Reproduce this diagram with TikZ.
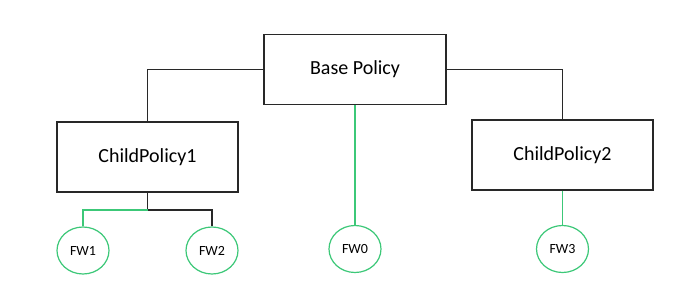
\documentclass[tikz,border=0pt]{standalone}
\usepackage{fontspec}
\setmainfont{Carlito}
\usetikzlibrary{shapes.geometric}
\definecolor{fwgreen}{RGB}{60,200,120}
\definecolor{boxline}{RGB}{40,40,40}
\begin{document}
\begin{tikzpicture}[x=1pt,y=-1pt,
  policy/.style={draw=boxline,line width=1.2pt,minimum width=182pt,minimum height=70pt,inner sep=0pt,font=\fontsize{20}{24}\selectfont},
  fw/.style={ellipse,draw=fwgreen,line width=1.2pt,minimum width=52pt,minimum height=47pt,inner sep=0pt,font=\fontsize{14}{16}\selectfont},
  blk/.style={draw=boxline,line width=1.2pt},
  grn/.style={draw=fwgreen,line width=1.2pt}]
\useasboundingbox[fill=white] (0,0) rectangle (693,300);
\node[policy] (base) at (355,69.5) {Base Policy};
\node[policy,minimum width=181pt] (c1) at (147.5,157) {ChildPolicy1};
\node[policy,minimum width=181pt] (c2) at (562.5,155) {ChildPolicy2};
\node[fw] (fw1) at (83,250.5) {FW1};
\node[fw] (fw2) at (212,250.5) {FW2};
\node[fw] (fw0) at (355,249) {FW0};
\node[fw] (fw3) at (562.5,249) {FW3};
\coordinate (j) at (147.5,210);
\draw[blk] (base.west) -| (c1.north);
\draw[blk] (base.east) -| (c2.north);
\draw[grn] (base.south) -- (fw0.north);
\draw[grn] (c2.south) -- (fw3.north);
\draw[blk] (c1.south) -- (j);
\draw[blk] (j) -| (fw2.north);
\draw[grn] (j) -| (fw1.north);
\end{tikzpicture}
\end{document}
